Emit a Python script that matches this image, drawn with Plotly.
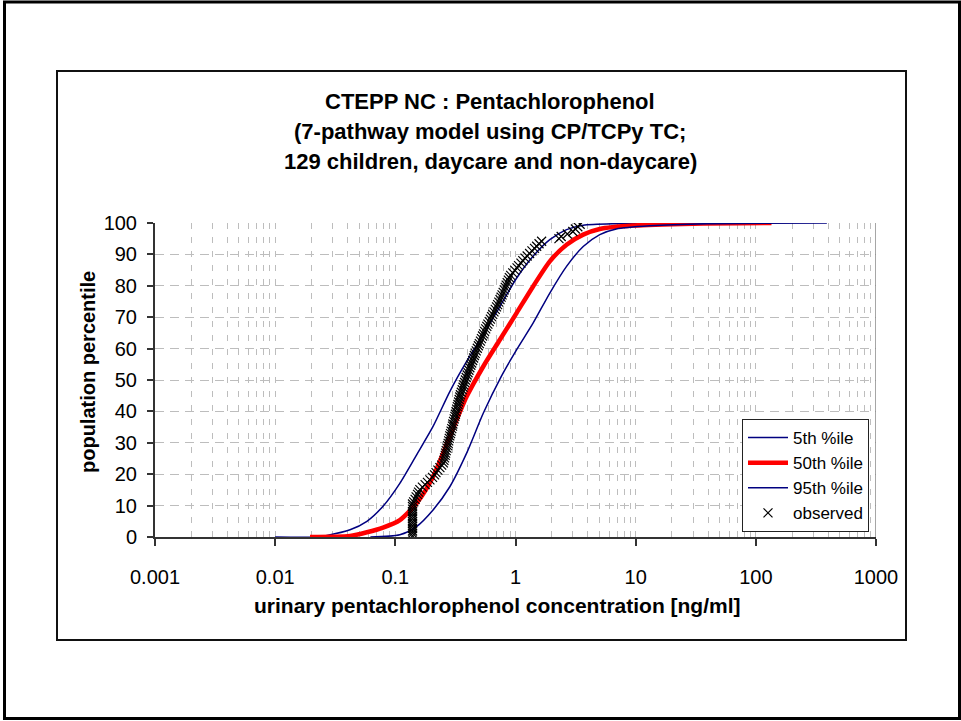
import plotly.graph_objects as go

# ---------------- data ----------------
p5_x = [0.010, 0.022, 0.027, 0.042, 0.058, 0.079, 0.109, 0.150, 0.206, 0.284, 0.392,
        0.539, 0.741, 1.02, 1.40, 1.93, 2.66, 3.66, 6.9, 60.0]
p5_y = [0.0, 0.0, 0.5, 2.3, 5.0, 9.8, 17.1, 26.1, 35.2, 46.3, 55.9,
        64.4, 73.4, 82.4, 89.4, 94.7, 97.9, 99.3, 99.8, 100.0]

p50_x = [0.0195, 0.030, 0.042, 0.058, 0.079, 0.109, 0.150, 0.206, 0.284, 0.392, 0.539,
         0.741, 1.02, 1.40, 1.93, 2.66, 3.66, 5.03, 9.5, 30.0, 135.0]
p50_y = [0.0, 0.05, 0.3, 1.5, 3.0, 5.4, 10.7, 19.2, 32.0, 44.7, 54.3,
         62.8, 71.3, 79.8, 87.8, 93.1, 96.3, 98.1, 99.2, 99.8, 100.0]

p95_x = [0.062, 0.109, 0.150, 0.206, 0.284, 0.392, 0.539, 0.76, 1.02, 1.40,
         1.93, 2.66, 3.66, 5.03, 6.9, 13.1, 40.0, 390.0]
p95_y = [0.0, 0.7, 3.3, 8.6, 16.0, 26.7, 39.4, 51.1, 59.6, 68.1,
         77.7, 86.2, 92.5, 96.3, 98.1, 99.1, 99.8, 100.0]

obs_x = [0.139, 0.139, 0.139, 0.139, 0.139, 0.139, 0.139, 0.139, 0.139, 0.139,
         0.139, 0.139, 0.139, 0.139, 0.142, 0.146, 0.149, 0.153, 0.156, 0.160,
         0.168, 0.177, 0.185, 0.194, 0.204, 0.212, 0.218, 0.226, 0.235, 0.243,
         0.251, 0.254, 0.257, 0.260, 0.262, 0.265, 0.269, 0.272, 0.275, 0.278,
         0.281, 0.284, 0.288, 0.291, 0.295, 0.299, 0.301, 0.305, 0.309, 0.313,
         0.316, 0.320, 0.324, 0.328, 0.332, 0.336, 0.340, 0.344, 0.348, 0.354,
         0.360, 0.366, 0.371, 0.377, 0.383, 0.389, 0.396, 0.403, 0.410, 0.417,
         0.425, 0.432, 0.440, 0.448, 0.455, 0.462, 0.471, 0.481, 0.491, 0.500,
         0.511, 0.521, 0.532, 0.542, 0.553, 0.565, 0.577, 0.589, 0.604, 0.618,
         0.632, 0.646, 0.662, 0.678, 0.695, 0.710, 0.726, 0.743, 0.759, 0.773,
         0.789, 0.805, 0.821, 0.836, 0.853, 0.871, 0.889, 0.912, 0.949, 0.988,
         1.03, 1.06, 1.11, 1.15, 1.20, 1.25, 1.31, 1.37, 1.44, 1.50,
         1.57, 1.65, 2.30, 2.40, 2.70, 3.00, 3.15, 3.30, 3.45]
obs_y = [0.4, 1.2, 1.9, 2.7, 3.5, 4.3, 5.0, 5.8, 6.6, 7.4,
         8.1, 8.9, 9.7, 10.5, 11.2, 12.0, 12.8, 13.6, 14.3, 15.1,
         15.9, 16.7, 17.4, 18.2, 19.0, 19.8, 20.5, 21.3, 22.1, 22.9,
         23.6, 24.4, 25.2, 26.0, 26.7, 27.5, 28.3, 29.1, 29.8, 30.6,
         31.4, 32.2, 32.9, 33.7, 34.5, 35.3, 36.0, 36.8, 37.6, 38.4,
         39.1, 39.9, 40.7, 41.5, 42.2, 43.0, 43.8, 44.6, 45.3, 46.1,
         46.9, 47.7, 48.4, 49.2, 50.0, 50.8, 51.6, 52.3, 53.1, 53.9,
         54.7, 55.4, 56.2, 57.0, 57.8, 58.5, 59.3, 60.1, 60.9, 61.6,
         62.4, 63.2, 64.0, 64.7, 65.5, 66.3, 67.1, 67.8, 68.6, 69.4,
         70.2, 70.9, 71.7, 72.5, 73.3, 74.0, 74.8, 75.6, 76.4, 77.1,
         77.9, 78.7, 79.5, 80.2, 81.0, 81.8, 82.6, 83.3, 84.1, 84.9,
         85.7, 86.4, 87.2, 88.0, 88.8, 89.5, 90.3, 91.1, 91.9, 92.6,
         93.4, 94.2, 95.0, 95.7, 96.5, 97.3, 98.1, 98.8, 99.6]

x_tickvals = [0.001, 0.01, 0.1, 1, 10, 100, 1000]
x_ticktext = ["0.001", "0.01", "0.1", "1", "10", "100", "1000"]
x_minorvals = [m * d for d in [0.001, 0.01, 0.1, 1, 10, 100] for m in range(2, 10)]
y_tickvals = [0, 10, 20, 30, 40, 50, 60, 70, 80, 90, 100]

title_lines = ["CTEPP NC : Pentachlorophenol",
               "(7-pathway model using CP/TCPy TC;",
               "129 children, daycare and non-daycare)"]
x_title = "urinary pentachlorophenol concentration [ng/ml]"
y_title = "population percentile"

# ---------------- layout geometry (pixels) ----------------
W, H = 961, 721
L, R, T, B = 155, 85, 223, 184
PW, PH = W - L - R, H - T - B


def px(x):
    return (x - L) / PW


def py(y):
    return (H - B - y) / PH


FONT = "Liberation Sans, Arial, sans-serif"
NAVY = "#000080"
GRID = "#bdbdbd"

fig = go.Figure()
fig.add_trace(go.Scatter(x=p5_x, y=p5_y, mode="lines", name="5th %ile",
                         line=dict(color=NAVY, width=1.5, shape="spline", smoothing=0.7)))
fig.add_trace(go.Scatter(x=p50_x, y=p50_y, mode="lines", name="50th %ile",
                         line=dict(color="#ff0000", width=4.5, shape="spline", smoothing=0.7)))
fig.add_trace(go.Scatter(x=p95_x, y=p95_y, mode="lines", name="95th %ile",
                         line=dict(color=NAVY, width=1.5, shape="spline", smoothing=0.7)))
fig.add_trace(go.Scatter(x=obs_x, y=obs_y, mode="markers", name="observed",
                         marker=dict(symbol="x-thin", size=9, color="black",
                                     line=dict(color="black", width=1.2))))

fig.update_xaxes(type="log", range=[-3, 3], tickvals=x_tickvals, ticktext=x_ticktext,
                 ticks="outside", ticklen=7, tickcolor="#333333", tickwidth=1.5,
                 showline=True, linecolor="#333333", linewidth=2,
                 showgrid=True, gridcolor=GRID, griddash="6px,8px", gridwidth=1,
                 minor=dict(tickvals=x_minorvals, showgrid=True, gridcolor=GRID,
                            griddash="6px,8px", ticks=""),
                 tickfont=dict(family=FONT, size=20, color="black"),
                 ticklabelstandoff=14, zeroline=False)
fig.update_yaxes(range=[0, 100], tickvals=y_tickvals,
                 ticks="outside", ticklen=6, tickcolor="#333333", tickwidth=1.5,
                 showline=True, linecolor="#333333", linewidth=2,
                 showgrid=True, gridcolor=GRID, griddash="9px,6px", gridwidth=1,
                 tickfont=dict(family=FONT, size=20, color="black"),
                 ticklabelstandoff=6, zeroline=False)

annotations = []
for i, line in enumerate(title_lines):
    annotations.append(dict(text="<b>%s</b>" % line, x=px(490), y=py(101 + 30 * i),
                            xref="paper", yref="paper", showarrow=False,
                            xanchor="center", yanchor="middle",
                            font=dict(family=FONT, size=22, color="black")))
annotations.append(dict(text="<b>%s</b>" % x_title, x=px(497), y=py(605),
                        xref="paper", yref="paper", showarrow=False,
                        xanchor="center", yanchor="middle",
                        font=dict(family=FONT, size=21, color="black")))
annotations.append(dict(text="<b>%s</b>" % y_title, x=px(88), y=py(372),
                        xref="paper", yref="paper", showarrow=False, textangle=-90,
                        xanchor="center", yanchor="middle",
                        font=dict(family=FONT, size=20, color="black")))

shapes = [
    # outer frame
    dict(type="rect", xref="paper", yref="paper", x0=px(4.5), x1=px(959.5),
         y0=py(2), y1=py(718.5), line=dict(color="black", width=3), layer="below"),
    # inner chart frame
    dict(type="rect", xref="paper", yref="paper", x0=px(57), x1=px(906),
         y0=py(71), y1=py(640), line=dict(color="#111111", width=2), layer="below"),
    # right edge of plot area
    dict(type="line", xref="x", yref="y", x0=1000, x1=1000, y0=0, y1=100,
         line=dict(color="#888888", width=1.5)),
]

fig.update_layout(
    width=W, height=H, autosize=False,
    margin=dict(l=L, r=R, t=T, b=B, pad=0),
    paper_bgcolor="white", plot_bgcolor="white",
    font=dict(family=FONT, color="black"),
    showlegend=True,
    legend=dict(x=px(869), y=py(532), xanchor="right", yanchor="bottom",
                bgcolor="white", bordercolor="#222222", borderwidth=1,
                font=dict(family=FONT, size=17, color="black"),
                itemwidth=40, tracegroupgap=0),
    annotations=annotations,
    shapes=shapes,
)

fig.write_html("out.html", config={"displayModeBar": False},
               post_script="document.body.style.margin='0px';")
